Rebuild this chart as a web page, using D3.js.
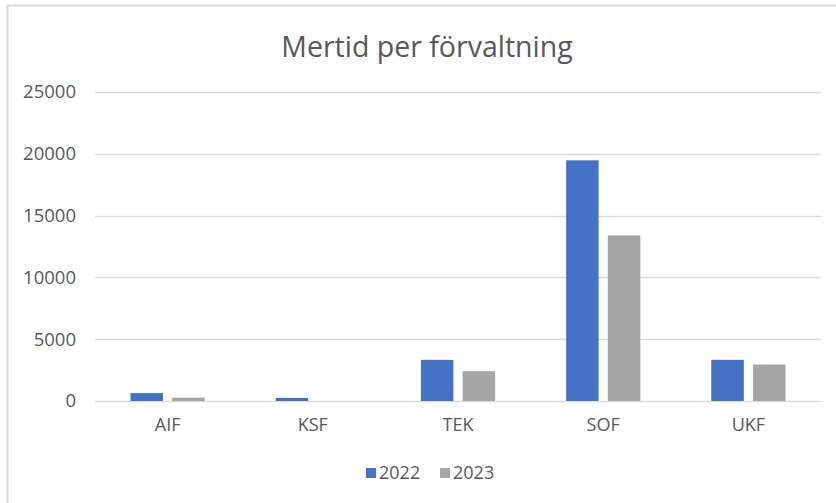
<!DOCTYPE html>
<html><head><meta charset="utf-8">
<script src="https://cdn.jsdelivr.net/npm/d3@7"></script>
<style>html,body{margin:0;padding:0;background:#fff;}svg{display:block;}</style>
</head><body>
<svg id="chart" width="836" height="503"></svg>
<script>
const categories = ["AIF", "KSF", "TEK", "SOF", "UKF"];
const seriesNames = ["2022", "2023"];
const values2022 = [640, 250, 3330, 19470, 3330];
const values2023 = [270, 0, 2410, 13400, 2950];
const yTicks = [0, 5000, 10000, 15000, 20000, 25000];
const colors = ["#4472C4", "#A5A5A5"];
const title = "Mertid per förvaltning";

const svg = d3.select("#chart");
const font = "'Open Sans', sans-serif";
const textColor = "#595959";

// border (left and top)
svg.append("line").attr("x1", 7.5).attr("x2", 7.5).attr("y1", 5).attr("y2", 503)
  .attr("stroke", "#d9d9d9").attr("stroke-width", 2);
svg.append("line").attr("x1", 7).attr("x2", 836).attr("y1", 5.5).attr("y2", 5.5)
  .attr("stroke", "#d9d9d9").attr("stroke-width", 2);

const plot = {left: 95, right: 821, top: 92, bottom: 401};
const x = d3.scaleBand().domain(categories).range([plot.left, plot.right]).paddingInner(0).paddingOuter(0);
const y = d3.scaleLinear().domain([0, 25000]).range([plot.bottom, plot.top]);

// gridlines
svg.append("g").selectAll("line").data(yTicks).join("line")
  .attr("x1", plot.left).attr("x2", plot.right)
  .attr("y1", d => Math.round(y(d)) + 0.5).attr("y2", d => Math.round(y(d)) + 0.5)
  .attr("stroke", "#d9d9d9").attr("stroke-width", 1.5);

// y axis labels
const yAxis = d3.axisLeft(y).tickValues(yTicks).tickSize(0).tickPadding(0).tickFormat(d3.format("d"));
const yg = svg.append("g").attr("transform", `translate(${plot.left - 19},0)`).call(yAxis);
yg.select(".domain").remove();
yg.selectAll("text").attr("font-family", font).attr("font-size", 18.5).attr("fill", textColor);

// x axis labels
const xAxis = d3.axisBottom(x).tickSize(0).tickPadding(0);
const xg = svg.append("g").attr("transform", `translate(0,${plot.bottom + 17})`).call(xAxis);
xg.select(".domain").remove();
xg.selectAll("text").attr("font-family", font).attr("font-size", 18).attr("fill", textColor);

// bars
const barW = 32.5, gap = 9.2;
const inner = d3.scaleBand().domain(seriesNames).range([0, 2 * barW + gap]).paddingInner(gap / (barW + gap)).paddingOuter(0);
const data = [values2022, values2023];
const groups = svg.append("g").selectAll("g").data(categories).join("g")
  .attr("transform", d => `translate(${x(d) + x.bandwidth() / 2 - (2 * barW + gap) / 2},0)`);
groups.selectAll("rect").data((c, i) => seriesNames.map((s, j) => ({s, j, v: data[j][i]}))).join("rect")
  .attr("x", d => inner(d.s)).attr("width", inner.bandwidth())
  .attr("y", d => y(d.v)).attr("height", d => y(0) - y(d.v))
  .attr("fill", d => colors[d.j]);

// title
svg.append("text").attr("x", 427).attr("y", 57).attr("text-anchor", "middle")
  .attr("font-family", font).attr("font-size", 28.5).attr("fill", textColor).text(title);

// legend
const legend = svg.append("g").attr("font-family", font).attr("font-size", 18).attr("fill", textColor);
const legX = [366, 440];
seriesNames.forEach((s, i) => {
  legend.append("rect").attr("x", legX[i]).attr("y", 468).attr("width", 10).attr("height", 10).attr("fill", colors[i]);
  legend.append("text").attr("x", legX[i] + 13).attr("y", 479).text(s);
});
</script>
</body></html>
